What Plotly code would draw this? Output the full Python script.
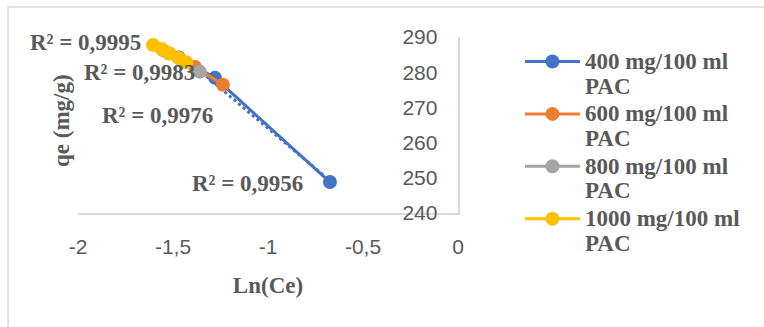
import numpy as np
import plotly.graph_objects as go

# ---- data ----
series_names = ["400 mg/100 ml", "600 mg/100 ml", "800 mg/100 ml", "1000 mg/100 ml"]
name_suffix = "PAC"
colors = ["#4472C4", "#ED7D31", "#A5A5A5", "#FFC000"]

x_400 = [-1.47, -1.279, -0.674]
y_400 = [284.2, 278.4, 248.8]
x_600 = [-1.52, -1.384, -1.237]
y_600 = [285.3, 281.5, 276.4]
x_800 = [-1.55, -1.45, -1.358]
y_800 = [286.2, 283.0, 280.1]
x_1000 = [-1.605, -1.56, -1.52, -1.47, -1.43]
y_1000 = [287.7, 286.6, 285.4, 284.0, 282.8]

r2_labels = ["R² = 0,9956", "R² = 0,9976", "R² = 0,9983", "R² = 0,9995"]
r2_x = [-1.108, -1.584, -1.676, -1.963]
r2_y = [248.5, 267.8, 279.8, 288.3]

x_ticks = [-2, -1.5, -1, -0.5, 0]
x_tick_text = ["-2", "-1,5", "-1", "-0,5", "0"]
y_ticks = [240, 250, 260, 270, 280, 290]

xs = [x_400, x_600, x_800, x_1000]
ys = [y_400, y_600, y_800, y_1000]

GRAY = "#595959"
SERIF = "Liberation Serif"
SANS = "Liberation Sans"

fig = go.Figure()

# trendlines (linear fits, dotted)
for x, y, c in zip(xs, ys, colors):
    k, b = np.polyfit(x, y, 1)
    tx = np.array([min(x), max(x)])
    fig.add_trace(go.Scatter(x=tx, y=k * tx + b, mode="lines",
                             line=dict(color=c, width=3, dash="dot"),
                             showlegend=False, hoverinfo="skip"))

for x, y, c, n in zip(xs, ys, colors, series_names):
    label = ("<b><span style='font-size:23px'>" + n + "</span><br>"
             "<span style='font-size:23px'>" + name_suffix + "</span></b>")
    fig.add_trace(go.Scatter(x=x, y=y, mode="lines+markers", name=label,
                             line=dict(color=c, width=3),
                             marker=dict(color=c, size=14)))

for t, ax, ay in zip(r2_labels, r2_x, r2_y):
    fig.add_annotation(x=ax, y=ay, text="<b>" + t + "</b>", showarrow=False,
                       xanchor="center", yanchor="middle",
                       font=dict(family=SERIF, size=23, color=GRAY))

fig.add_annotation(xref="paper", yref="paper", x=-0.045, y=0.528, text="<b>qe (mg/g)</b>",
                   textangle=-90, showarrow=False, xanchor="center", yanchor="middle",
                   font=dict(family=SERIF, size=23, color=GRAY))

fig.add_shape(type="rect", xref="paper", yref="paper", x0=-0.184, y0=-0.75, x1=2.0, y1=1.17,
              line=dict(color="#D9D9D9", width=1.5), layer="below")

fig.update_layout(
    width=764, height=327,
    margin=dict(l=78, r=306, t=37, b=114, autoexpand=False),
    paper_bgcolor="white", plot_bgcolor="white",
    separators=", ",
    font=dict(family=SANS, color=GRAY),
    xaxis=dict(range=[-2, 0], tickvals=x_ticks, ticktext=x_tick_text, showgrid=False, zeroline=False,
               showline=True, linecolor="#D9D9D9", linewidth=1.5, ticks="", automargin=False,
               tickfont=dict(family=SANS, size=21, color=GRAY), ticklabelstandoff=14,
               title=dict(text="<b>Ln(Ce)</b>", font=dict(family=SERIF, size=23, color=GRAY), standoff=20)),
    yaxis=dict(range=[240, 290], tickvals=y_ticks, side="right", showgrid=False, zeroline=False,
               showline=True, linecolor="#D9D9D9", linewidth=1.5, ticks="", automargin=False,
               ticklabelposition="inside", ticklabeloverflow="allow", ticklabelstandoff=22,
               tickfont=dict(family=SANS, size=21, color=GRAY)),
    legend=dict(x=1.163, y=0.968, xanchor="left", yanchor="top", bgcolor="rgba(0,0,0,0)",
                font=dict(family=SERIF, size=19, color=GRAY), itemwidth=55, tracegroupgap=0,
                valign="top", maxheight=400),
)

fig.write_html("out.html", config={"displayModeBar": False},
               post_script="document.body.style.margin='0';")
